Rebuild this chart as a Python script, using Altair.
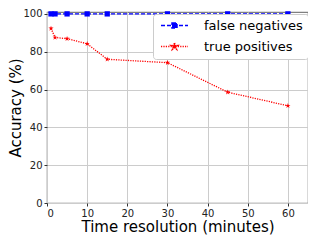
import altair as alt
import pandas as pd

minutes = [1, 2, 5, 10, 15, 30, 45, 60]
false_negatives = [100, 100, 100, 100, 100, 100, 100, 100]
true_positives = [92.3, 87.5, 86.9, 84.2, 76.0, 74.2, 58.6, 51.4]
series = ["false negatives", "true positives"]
x_ticks = [0, 10, 20, 30, 40, 50, 60]
y_ticks = [0, 20, 40, 60, 80, 100]

df = pd.DataFrame({
    "minutes": minutes * 2,
    "accuracy": false_negatives + true_positives,
    "series": [series[0]] * len(minutes) + [series[1]] * len(minutes),
})

FONT = "DejaVu Sans"
BLUE, RED = "#0000ff", "#ff0000"
star = ("M0,-1L0.2245,-0.309L0.951,-0.309L0.3633,0.118L0.5878,0.809L0,0.382"
        "L-0.5878,0.809L-0.3633,0.118L-0.951,-0.309L-0.2245,-0.309Z")
# legend glyphs: line segment with the marker in the middle
leg_square = "M-2.7,0H2.7M-0.5,-0.5H0.5V0.5H-0.5Z"
leg_star = ("M-2.7,0H2.7M0,-0.7L0.157,-0.216L0.666,-0.216L0.254,0.083L0.411,0.566"
            "L0,0.267L-0.411,0.566L-0.254,0.083L-0.666,-0.216L-0.157,-0.216Z")

x = alt.X("minutes:Q", scale=alt.Scale(domain=[0, 65], nice=False, zero=False),
          axis=alt.Axis(values=x_ticks, title="Time resolution (minutes)"))
y = alt.Y("accuracy:Q", scale=alt.Scale(domain=[0, 101], nice=False),
          axis=alt.Axis(values=y_ticks, title="Accuracy (%)",
                        titleX=-31.5, titleBaseline="middle"))
color = alt.Color("series:N", scale=alt.Scale(domain=series, range=[BLUE, RED]), title=None,
                  legend=alt.Legend(orient="none", legendX=106, legendY=2,
                                    symbolSize=100, symbolStrokeWidth=1.5,
                                    symbolOffset=10, labelOffset=23,
                                    labelFontSize=13, labelFont=FONT,
                                    labelColor="#000000",
                                    rowPadding=7, padding=5,
                                    fillColor="white", strokeColor="#cccccc",
                                    cornerRadius=3))
dash = alt.StrokeDash("series:N", title=None,
                      scale=alt.Scale(domain=series, range=[[4, 2], [1.2, 1.2]]))

base = alt.Chart(df)
lines = base.mark_line(strokeWidth=1.3).encode(x=x, y=y, color=color, strokeDash=dash)

fn_points = base.transform_filter(alt.datum.series == series[0]).mark_point(
    filled=True, opacity=1, size=28, shape="square", color=BLUE).encode(x=x, y=y)
tp_points = base.transform_filter(alt.datum.series == series[1]).mark_point(
    filled=True, opacity=1, size=30, shape=star, color=RED).encode(x=x, y=y)

# legend-only layer (no rows) so the legend shows line + marker glyphs
legend_layer = base.transform_filter("datum.minutes < 0").mark_point(
    filled=True, opacity=1).encode(
    x=x, y=y, color=color, strokeDash=dash,
    shape=alt.Shape("series:N", title=None,
                    scale=alt.Scale(domain=series, range=[leg_square, leg_star])),
)

chart = alt.layer(lines, fn_points, tp_points, legend_layer).properties(
    width=261, height=191,
    autosize=alt.AutoSizeParams(type="none"),
    padding={"left": 39, "top": 4, "right": 0, "bottom": 37},
).configure_view(
    stroke="#808080", strokeWidth=1.2
).configure_axis(
    labelFont=FONT, titleFont=FONT, labelFontSize=10, titleFontSize=15,
    titleFontWeight="normal", labelColor="#222222", titleColor="#000000",
    gridColor="#cccccc", gridWidth=1, domain=False, tickColor="#333333",
    tickSize=3, labelPadding=2
).configure_axisX(titlePadding=1)

chart.save("out.html", embed_options={"renderer": "svg", "actions": False})
